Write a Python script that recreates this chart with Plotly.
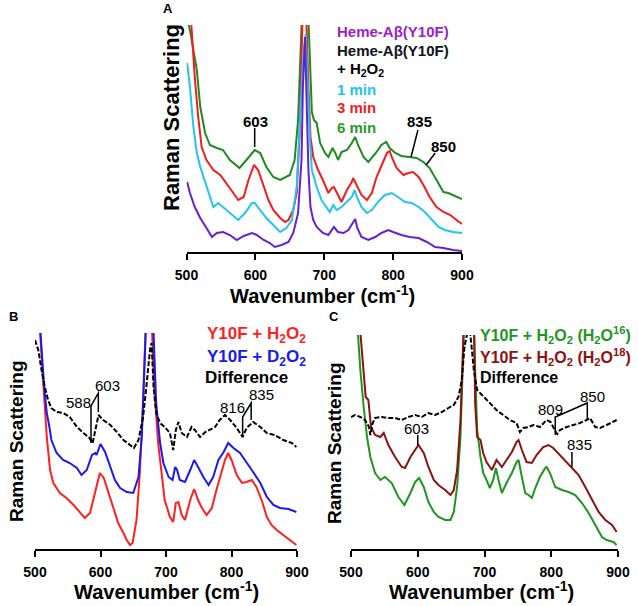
import plotly.graph_objects as go

W, H = 638, 606
FONT = "Liberation Sans, Arial, sans-serif"

# ---------------- Panel A : Heme-Abeta(Y10F) + H2O2 time course ----------------
a_purple_x = [501,505,512,520,529,537,544,553,563,573,583,595,602,612,621,628,638,648,655,662,
              667,669,672,675,677,680,684,689,698,706,711,714,720,728,735,742,745,748,754,764,
              774,783,793,800,812,824,837,849,861,873,887,900]
a_purple_y = [70,59,45,34,24,15,19,20,17,12,16,19,17,12,9,5,7,10,19,39,
              92,165,215,149,82,45,32,25,19,17,22,25,20,19,22,29,33,24,15,12,
              15,19,22,20,17,15,14,10,5,4,2,1]

a_cyan_x = [501,505,510,515,520,529,539,546,553,563,575,585,595,599,607,616,626,636,645,653,
            660,665,669,673,675,679,682,689,696,704,708,713,718,725,733,740,744,748,754,762,
            769,778,788,798,807,817,827,837,846,856,866,875,887,900]
a_cyan_y = [189,165,125,99,85,65,45,49,45,39,32,39,49,49,42,34,27,20,24,32,
            65,132,192,218,182,115,82,65,52,44,40,47,42,45,50,55,62,54,45,39,
            42,50,57,59,55,50,49,45,40,32,25,22,20,19]

a_red_x = [500,507,512,517,522,529,539,549,558,568,575,583,590,598,604,612,619,626,636,643,
           648,655,660,664,666,671,677,680,684,691,698,706,711,714,720,725,733,740,742,747,
           754,762,769,776,783,791,795,798,805,815,822,829,837,844,853,863,873,883,892,900]
a_red_y = [300,228,175,135,105,92,82,77,69,59,52,55,72,87,82,65,52,42,34,30,
           32,42,59,115,199,300,165,115,95,82,72,59,64,65,57,50,62,70,74,67,
           57,52,59,75,87,99,101,95,84,77,79,80,75,67,55,45,40,37,32,28]

a_green_x = [500,505,515,520,527,534,544,553,563,577,587,599,607,616,626,636,650,657,662,666,
             672,678,682,685,689,694,701,706,712,716,720,725,733,740,745,749,757,764,769,776,
             783,790,795,803,812,824,834,844,853,863,873,880,892,900]
a_green_y = [235,222,182,145,119,107,104,102,92,84,92,102,99,85,75,72,77,92,132,199,
             320,215,140,132,129,109,99,95,104,99,92,100,102,109,115,107,95,90,94,100,
             107,110,104,99,96,95,94,90,84,72,60,59,55,53]

# ---------------- Panel B : H2O2 vs D2O2 ----------------
b_red_x = [500,507,513,518,523,528,538,548,559,569,576,584,592,599,605,612,620,627,635,640,
           645,649,655,660,665,670,674,678,682,688,693,698,706,711,715,719,724,729,737,743,
           749,754,762,770,777,785,790,795,800,808,816,823,831,838,846,854,861,869,879,889,899]
b_red_y = [320,225,162,112,79,66,56,51,44,36,31,36,56,76,71,56,39,26,16,9,
           4,6,29,76,146,230,320,230,162,106,76,49,32,27,46,47,34,29,49,60,
           49,42,34,41,59,79,89,96,89,74,66,67,69,62,49,32,24,19,14,9,4]

b_blue_x = [500,508,514,518,522,525,533,543,553,564,571,579,587,592,594,600,607,615,622,630,
            640,650,658,663,668,675,681,685,691,696,704,710,714,717,721,729,737,743,749,757,
            765,772,780,788,795,803,813,823,833,844,854,864,874,887,899]
b_blue_y = [320,220,162,136,122,109,96,89,86,81,74,79,94,96,94,105,97,82,69,61,
            57,56,72,112,179,320,216,146,106,86,72,69,82,79,69,67,79,89,82,72,
            64,72,89,97,106,101,96,87,77,66,52,44,41,40,37]

b_diff_x = [500,505,510,515,520,525,533,543,553,564,574,583,588,592,597,604,615,625,635,645,
            651,658,665,670,676,678,681,685,691,698,706,711,715,719,724,732,739,744,752,760,
            767,775,782,790,798,808,817,823,833,844,854,866,879,892,899]
b_diff_y = [209,199,179,162,149,141,137,136,132,122,116,111,106,119,134,129,124,117,109,104,
            101,109,132,162,202,206,162,136,126,122,116,99,119,127,116,112,122,119,112,117,
            119,122,129,134,129,121,112,121,127,122,116,114,109,106,102]

# ---------------- Panel C : H2O16 vs H2O18 ----------------
c_green_x = [500,510,514,519,524,529,536,544,551,561,571,580,589,596,602,609,616,624,631,641,
             649,654,659,664,667,674,680,685,689,694,698,703,708,713,717,721,726,733,741,748,
             751,756,761,766,771,776,783,791,793,798,806,816,826,836,846,856,866,876,883,893,898]
c_green_y = [320,214,179,142,112,92,76,69,72,66,52,44,56,67,71,62,47,37,32,29,
             29,37,62,112,162,320,300,190,119,92,76,69,61,69,81,69,56,66,76,87,
             89,72,56,54,51,61,72,81,82,76,62,59,57,54,46,36,24,12,9,7,4]

c_dred_x = [500,515,519,522,526,530,536,544,549,556,566,576,581,589,596,601,609,616,624,631,
            641,649,654,659,664,667,674,683,686,689,694,698,703,711,718,726,733,741,748,751,
            756,763,771,778,788,796,803,813,823,831,841,851,861,871,881,891,898]
c_dred_y = [330,214,179,152,149,122,114,112,116,104,92,82,81,92,99,104,96,82,69,64,
            59,54,59,79,129,189,320,300,146,112,109,96,87,79,89,82,89,97,107,109,
            99,87,86,94,102,104,101,94,87,82,74,62,49,37,29,24,17]

c_diff_x = [500,506,514,521,527,529,532,536,546,556,566,576,586,596,606,616,626,636,646,654,
            661,666,670,677,681,684,689,696,706,718,728,738,748,753,758,766,773,783,793,799,
            806,809,813,823,833,843,853,858,866,873,883,893,898]
c_diff_y = [132,134,132,129,122,114,125,131,132,131,131,129,132,134,132,136,134,137,141,144,
            152,169,202,225,200,179,159,154,147,139,134,129,126,117,121,122,124,122,129,127,
            118,115,119,122,124,126,129,131,122,121,124,127,129]

tick_vals = [500, 600, 700, 800, 900]
tick_text = ["500", "600", "700", "800", "900"]

fig = go.Figure()


def add(x, y, color, xa, ya, dash=None, width=2.0):
    fig.add_trace(go.Scatter(x=x, y=y, mode="lines",
                             line=dict(color=color, width=width, dash=dash),
                             xaxis=xa, yaxis=ya, showlegend=False, hoverinfo="skip"))


# Panel A
add(a_green_x, a_green_y, "#1f8a1f", "x", "y")
add(a_red_x, a_red_y, "#f21c1c", "x", "y")
add(a_cyan_x, a_cyan_y, "#22c3ee", "x", "y")
add(a_purple_x, a_purple_y, "#6a1fcf", "x", "y")
# Panel B
add(b_red_x, b_red_y, "#ff1f1f", "x2", "y2")
add(b_blue_x, b_blue_y, "#1a1aee", "x2", "y2")
add(b_diff_x, b_diff_y, "#000000", "x2", "y2", dash="5px,2px")
# Panel C
add(c_green_x, c_green_y, "#1f961f", "x3", "y3")
add(c_dred_x, c_dred_y, "#8c1212", "x3", "y3")
add(c_diff_x, c_diff_y, "#000000", "x3", "y3", dash="5px,2px")


def xdom(l, r):
    return [l / W, r / W]


def ydom(b, t):
    return [1 - b / H, 1 - t / H]


xcommon = dict(range=[500, 900], tickvals=tick_vals, ticktext=tick_text,
               showline=True, linecolor="black", linewidth=2, mirror=False,
               ticks="outside", ticklen=6, tickwidth=2, tickcolor="black",
               showgrid=False, zeroline=False, ticklabelstandoff=3, automargin=False,
               tickfont=dict(family=FONT, size=14, color="black", weight="bold"))
ycommon = dict(visible=False, showgrid=False, zeroline=False, automargin=False)

fig.update_layout(
    template="none",
    width=W, height=H, margin=dict(l=0, r=0, t=0, b=0, pad=0, autoexpand=False),
    paper_bgcolor="white", plot_bgcolor="white",
    font=dict(family=FONT, color="black"),
    xaxis=dict(domain=xdom(186.5, 462), anchor="y", **xcommon),
    yaxis=dict(domain=ydom(252, 25), range=[0, 227], anchor="x", **ycommon),
    xaxis2=dict(domain=xdom(35, 297), anchor="y2", **xcommon),
    yaxis2=dict(domain=ydom(549, 333), range=[0, 216], anchor="x2", **ycommon),
    xaxis3=dict(domain=xdom(351, 618), anchor="y3", **xcommon),
    yaxis3=dict(domain=ydom(549, 335), range=[0, 214], anchor="x3", **ycommon),
)

ann = []


def ptext(text, x, y, size, color="black", xanchor="center", angle=0):
    ann.append(dict(text=text, x=x / W, y=1 - y / H, xref="paper", yref="paper",
                    xanchor=xanchor, yanchor="middle", showarrow=False, textangle=angle,
                    font=dict(family=FONT, size=size, color=color)))


def dtext(text, x, y, xr, yr, size, bold=True):
    t = "<b>%s</b>" % text if bold else text
    ann.append(dict(text=t, x=x, y=y, xref=xr, yref=yr, xanchor="center", yanchor="middle",
                    showarrow=False, font=dict(family=FONT, size=size, color="black")))


WN = "<b>Wavenumber (cm<sup>-1</sup>)</b>"
RS = "<b>Raman Scattering</b>"
H2O2 = "H<sub>2</sub>O<sub>2</sub>"

# panel letters
ptext("<b>A</b>", 168, 8, 13)
ptext("<b>B</b>", 13, 317, 13)
ptext("<b>C</b>", 334, 317, 13)

# axis titles
ptext(WN, 322, 294, 20)
ptext(WN, 166, 590, 20)
ptext(WN, 482, 590, 20)
ptext(RS, 171, 118, 22, angle=-90)
ptext(RS, 16, 441, 19, angle=-90)
ptext(RS, 334, 443, 19, angle=-90)

# legend A
ptext("<b>Heme-A\u03b2(Y10F)</b>", 335, 32, 15, "#9b1fcb", "left")
ptext("<b>Heme-A\u03b2(Y10F)</b>", 335, 51, 15, "#111122", "left")
ptext("<b>+ %s</b>" % H2O2, 335, 70, 15, "black", "left")
ptext("<b>1 min</b>", 335, 89, 15, "#22c3ee", "left")
ptext("<b>3 min</b>", 335, 108, 15, "#f21c1c", "left")
ptext("<b>6 min</b>", 335, 127, 15, "#2a9a2a", "left")

# legend B
ptext("<b>Y10F + %s</b>" % H2O2, 205, 335, 17, "#ff1f1f", "left")
ptext("<b>Y10F + D<sub>2</sub>O<sub>2</sub></b>", 205, 358, 17, "#1a1aee", "left")
ptext("<b>Difference</b>", 203, 377, 17, "black", "left")

# legend C
ptext("<b>Y10F + %s (H<sub>2</sub>O<sup>16</sup>)</b>" % H2O2, 478, 335, 16, "#1f961f", "left")
ptext("<b>Y10F + %s (H<sub>2</sub>O<sup>18</sup>)</b>" % H2O2, 478, 357, 16, "#8c1212", "left")
ptext("<b>Difference</b>", 478, 377, 16, "black", "left")

# peak labels
dtext("603", 600, 131, "x", "y", 15)
dtext("835", 839, 131, "x", "y", 15)
dtext("850", 873, 106, "x", "y", 15)

dtext("588", 566, 147, "x2", "y2", 15, bold=False)
dtext("603", 611, 164, "x2", "y2", 15, bold=False)
dtext("816", 801, 142, "x2", "y2", 15, bold=False)
dtext("835", 846, 155, "x2", "y2", 15, bold=False)

dtext("603", 598, 121, "x3", "y3", 15, bold=False)
dtext("835", 843, 105, "x3", "y3", 15, bold=False)
dtext("809", 799, 140, "x3", "y3", 15, bold=False)
dtext("850", 862, 153, "x3", "y3", 15, bold=False)

fig.update_layout(annotations=ann)

shapes = []


def seg(x0, y0, x1, y1, xr, yr):
    shapes.append(dict(type="line", x0=x0, y0=y0, x1=x1, y1=y1, xref=xr, yref=yr,
                       line=dict(color="black", width=1.5)))


def bracket(pts, xr, yr):
    d = "M " + " L ".join("%s,%s" % p for p in pts)
    shapes.append(dict(type="path", path=d, xref=xr, yref=yr,
                       line=dict(color="black", width=1.5)))


seg(599, 105, 599, 124, "x", "y")
seg(836, 122, 826, 95, "x", "y")
seg(861, 99, 848, 87, "x", "y")

bracket([(585.5, 106), (585.5, 143), (596.7, 156), (596.7, 137)], "x2", "y2")
bracket([(817, 114), (817, 132), (830, 146), (830, 129)], "x2", "y2")

seg(600, 104, 600, 114, "x3", "y3")
seg(831, 82, 831, 97, "x3", "y3")
bracket([(806, 114), (806, 132), (854, 146), (854, 129)], "x3", "y3")

fig.update_layout(shapes=shapes)

fig.write_html("out.html",
               config={"displayModeBar": False},
               post_script="document.body.style.margin='0';document.body.style.padding='0';"
                           "document.body.style.overflow='hidden';")
